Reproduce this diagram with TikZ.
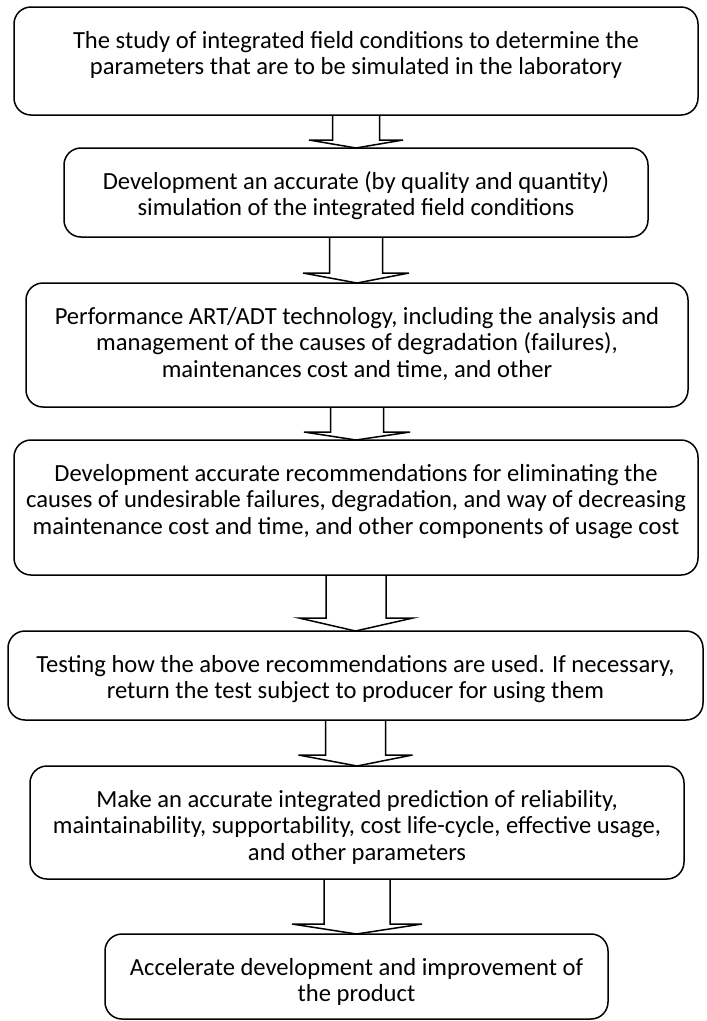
\documentclass[tikz,border=0pt]{standalone}
\usepackage{fontspec}
\setmainfont{Carlito}
\usetikzlibrary{calc}
\tikzset{
  flowbox/.style={draw, line width=1.5pt, rounded corners=17pt, inner sep=0pt, outer sep=0pt},
  barrow/.style={draw, line width=1.5pt, line join=miter},
}
% #1 name, #2 left, #3 right, #4 top, #5 bottom, #6 text
\newcommand\flowbox[6]{%
  \node[flowbox] (#1) at ({(#2+#3)/2},{(#4+#5)/2})
    {\parbox[c][\dimexpr#5pt-#4pt\relax][t]{\dimexpr#3pt-#2pt\relax}{\centering\fontsize{24.6}{26.5}\selectfont\rule{0pt}{41pt}#6\par}};}
% #1 from, #2 to, #3 shaft half width, #4 head half width, #5 head length
\newcommand\blockarrow[5]{%
  \draw[barrow] let \p1=(#1.south), \p2=(#2.north) in
    (\x1-#3pt,\y1) -- (\x1-#3pt,\y2+#5pt) -- (\x1-#4pt,\y2+#5pt) -- (\x2,\y2)
    -- (\x1+#4pt,\y2+#5pt) -- (\x1+#3pt,\y2+#5pt) -- (\x1+#3pt,\y1);}
\begin{document}
\begin{tikzpicture}[x=1pt,y=-1pt]
\useasboundingbox (0,0) rectangle (707,1021);
\flowbox{b1}{14}{698}{7}{115}{The study of integrated field conditions to determine the\\parameters that are to be simulated in the laboratory}
\flowbox{b2}{64}{648}{148}{237}{Development an accurate (by quality and quantity)\\simulation of the integrated field conditions}
\flowbox{b3}{26}{688}{283}{407}{Performance ART/ADT technology, including the analysis and\\management of the causes of degradation (failures),\\maintenances cost and time, and other}
\flowbox{b4}{14}{698}{440}{575}{Development accurate recommendations for eliminating the\\causes of undesirable failures, degradation, and way of decreasing\\maintenance cost and time, and other components of usage cost}
\flowbox{b5}{8}{703}{631}{720}{Testing how the above recommendations are used. If necessary,\\return the test subject to producer for using them}
\flowbox{b6}{30}{684}{766}{879}{Make an accurate integrated prediction of reliability,\\maintainability, supportability, cost life-cycle, effective usage,\\and other parameters}
\flowbox{b7}{105}{608}{934}{1019}{Accelerate development and improvement of\\the product}
\blockarrow{b1}{b2}{23.5}{47}{8}
\blockarrow{b2}{b3}{26.5}{53}{10}
\blockarrow{b3}{b4}{26.5}{53}{8}
\blockarrow{b4}{b5}{30}{57}{13}
\blockarrow{b5}{b6}{30}{57}{11}
\blockarrow{b6}{b7}{33}{65}{10}
\end{tikzpicture}
\end{document}
